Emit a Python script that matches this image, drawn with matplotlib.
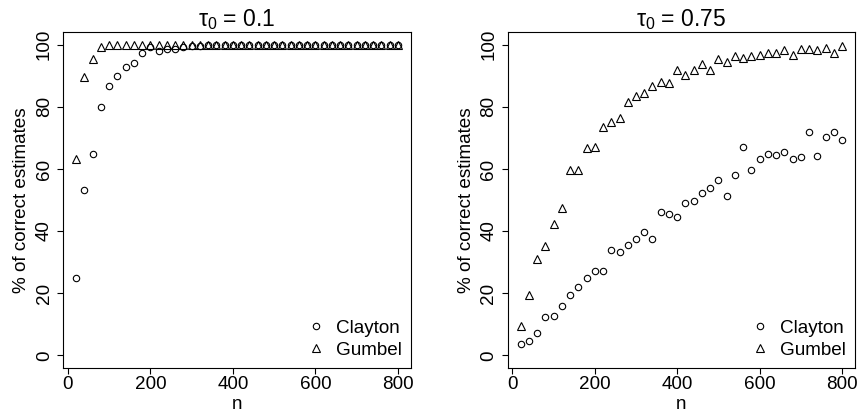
import matplotlib
matplotlib.use("Agg")
import matplotlib.pyplot as plt
import numpy as np

plt.rcParams['font.family'] = ['Liberation Sans', 'DejaVu Sans']
plt.rcParams['mathtext.fontset'] = 'custom'
plt.rcParams['mathtext.rm'] = 'Liberation Sans'
plt.rcParams['mathtext.it'] = 'Liberation Sans'
plt.rcParams['mathtext.bf'] = 'Liberation Sans:bold'

n = [20, 40, 60, 80, 100, 120, 140, 160, 180, 200,
     220, 240, 260, 280, 300, 320, 340, 360, 380, 400,
     420, 440, 460, 480, 500, 520, 540, 560, 580, 600,
     620, 640, 660, 680, 700, 720, 740, 760, 780, 800]

titles = [r'$\tau_0$ = 0.1', r'$\tau_0$ = 0.75']

clayton_01 = [24.8, 53.1, 64.8, 79.9, 86.7, 90.0, 92.7, 94.2, 97.2, 99.2,
              98.1, 98.5, 98.7, 99.2, 99.6, 99.7, 99.8, 99.8, 99.9, 99.9,
              100, 100, 100, 100, 100, 100, 100, 100, 100, 100,
              100, 100, 100, 100, 100, 100, 100, 100, 100, 100]
gumbel_01 = [63.3, 89.7, 95.3, 99.2, 100, 100, 100, 100, 100, 100,
             100, 100, 100, 100, 100, 100, 100, 100, 100, 100,
             100, 100, 100, 100, 100, 100, 100, 100, 100, 100,
             100, 100, 100, 100, 100, 100, 100, 100, 100, 100]

clayton_075 = [3.5, 4.7, 7.1, 12.4, 12.8, 16.0, 19.3, 21.9, 25.0, 27.2,
               27.2, 33.9, 33.2, 35.6, 37.6, 39.6, 37.4, 46.0, 45.4, 44.4,
               48.9, 49.6, 52.3, 54.0, 56.3, 51.2, 58.2, 67.0, 59.5, 63.3,
               64.9, 64.6, 65.5, 63.3, 63.9, 72.0, 64.1, 70.2, 71.8, 69.3]
gumbel_075 = [9.4, 19.4, 30.9, 35.2, 42.3, 47.3, 59.7, 59.7, 66.6, 67.2,
              73.6, 75.2, 76.5, 81.7, 83.5, 84.5, 86.7, 88.1, 87.8, 91.7,
              90.2, 91.7, 93.7, 91.7, 95.5, 94.3, 96.4, 95.8, 96.4, 96.6,
              97.2, 97.2, 98.3, 96.7, 98.6, 98.6, 98.3, 98.8, 97.2, 99.7]

labels = ['Clayton', 'Gumbel']
xticks = [0, 200, 400, 600, 800]
yticks = [0, 20, 40, 60, 80, 100]

W, H = 860, 415
fig = plt.figure(figsize=(W / 100, H / 100), dpi=100)
bottom = 1 - 367.7 / H
height = (367.7 - 32.3) / H
positions = [[63.3 / W, bottom, 347.4 / W, height],
             [507.7 / W, bottom, 347.3 / W, height]]

panels = [(clayton_01, gumbel_01), (clayton_075, gumbel_075)]
fs = 13.6

for i, (pos, (cl, gu)) in enumerate(zip(positions, panels)):
    ax = fig.add_axes(pos)
    ax.plot(n, cl, linestyle='none', marker='o', markersize=4.6,
            markerfacecolor='none', markeredgecolor='black',
            markeredgewidth=0.8, label=labels[0])
    ax.plot(n, gu, linestyle='none', marker='^', markersize=5.6,
            markerfacecolor='none', markeredgecolor='black',
            markeredgewidth=0.8, label=labels[1])
    ax.set_xlim(-11.2, 831.2)
    ax.set_ylim(-4, 104)
    ax.set_xticks(xticks)
    ax.set_yticks(yticks)
    ax.tick_params(axis='both', direction='out', length=4.5, width=0.8,
                   labelsize=fs, color='black')
    ax.tick_params(axis='x', pad=1.5)
    ax.tick_params(axis='y', pad=3)
    for lab in ax.get_yticklabels():
        lab.set_rotation(90)
        lab.set_verticalalignment('center')
    for sp in ax.spines.values():
        sp.set_linewidth(0.8)
        sp.set_color('black')
    ax.set_xlabel('n', fontsize=fs, labelpad=2)
    ax.set_ylabel('% of correct estimates', fontsize=fs, labelpad=4)
    ax.set_title(titles[i], fontsize=16.5, pad=4)
    ax.legend(loc='lower right', frameon=False, fontsize=fs,
              numpoints=1, handlelength=0.8, handletextpad=0.65,
              labelspacing=0.25, borderaxespad=0.1, borderpad=0.38)

fig.savefig('out.png', dpi=100)
